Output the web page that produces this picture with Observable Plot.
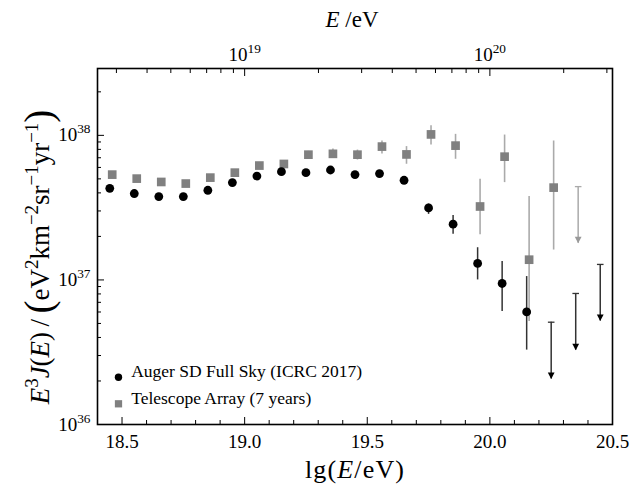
<!DOCTYPE html>
<html><head><meta charset="utf-8">
<script src="https://cdn.jsdelivr.net/npm/d3@7"></script>
<script src="https://cdn.jsdelivr.net/npm/@observablehq/plot@0.6"></script>
<style>
body{margin:0;background:#fff;}
#chart svg{font-family:"Liberation Serif",serif;}
#chart svg text{font-family:"Liberation Serif",serif;}
</style></head><body><div id="chart"></div>
<script>
// Auger SD Full Sky (ICRC 2017)
const augerLgE = [18.45,18.55,18.65,18.75,18.85,18.95,19.05,19.15,19.25,19.35,19.45,19.55,19.65,19.75,19.85,19.95,20.05,20.15];
const augerFlux = [4.30e37,3.96e37,3.77e37,3.77e37,4.17e37,4.71e37,5.23e37,5.61e37,5.52e37,5.76e37,5.35e37,5.44e37,4.89e37,3.15e37,2.43e37,1.30e37,9.45e36,6.01e36];
const augerErrLo = [4.22e37,3.89e37,3.70e37,3.70e37,4.09e37,4.62e37,5.12e37,5.49e37,5.39e37,5.61e37,5.19e37,5.25e37,4.68e37,2.84e37,2.07e37,1.00e37,6.05e36,3.27e36];
const augerErrHi = [4.38e37,4.03e37,3.84e37,3.84e37,4.25e37,4.80e37,5.34e37,5.73e37,5.65e37,5.91e37,5.51e37,5.63e37,5.10e37,3.35e37,2.79e37,1.67e37,1.34e37,1.055e37];
const augerLimLgE = [20.25,20.35,20.45];
const augerLimFlux = [5.1e36,8.06e36,1.28e37];

// Telescope Array (7 years)
const taLgE = [18.46,18.56,18.66,18.76,18.86,18.96,19.06,19.16,19.26,19.36,19.46,19.56,19.66,19.76,19.86,19.96,20.06,20.16,20.26];
const taFlux = [5.35e37,5.02e37,4.76e37,4.64e37,5.10e37,5.52e37,6.18e37,6.34e37,7.35e37,7.45e37,7.35e37,8.36e37,7.38e37,1.015e38,8.49e37,3.22e37,7.12e37,1.38e37,4.35e37];
const taErrLo = [5.2e37,4.88e37,4.62e37,4.5e37,4.94e37,5.34e37,5.96e37,6.1e37,6.95e37,6.94e37,6.75e37,7.43e37,6.31e37,8.57e37,6.83e37,2.05e37,4.71e37,5.16e36,1.61e37];
const taErrHi = [5.5e37,5.16e37,4.9e37,4.78e37,5.26e37,5.7e37,6.4e37,6.58e37,7.75e37,8.04e37,7.91e37,9.14e37,8.36e37,1.167e38,1.016e38,4.97e37,1.005e38,3.77e37,9.14e37];
const taLimLgE = [20.36];
const taLimFlux = [4.42e37];

const xTicks = [18.5,19.0,19.5,20.0,20.5];
const xMinor = [18.6,18.7,18.8,18.9,19.1,19.2,19.3,19.4,19.6,19.7,19.8,19.9,20.1,20.2,20.3,20.4];
const yTicks = [1e36,1e37,1e38];
const topTicksE = [1e19,1e20];
const topMinorE = [3e18,4e18,5e18,6e18,7e18,8e18,9e18,2e19,3e19,4e19,5e19,6e19,7e19,8e19,9e19,2e20,3e20];
const legendLabels = ["Auger SD Full Sky (ICRC 2017)","Telescope Array (7 years)"];

const yDomain = [1e36, 2.9e38];
const yMinor = [];
for (const d of [36,37,38]) for (let k=2;k<=9;k++){const v=k*10**d; if(v<=yDomain[1]) yMinor.push(v);}
const arrowFactor = 10**0.392;

const auger = augerLgE.map((x,i)=>({x,y:augerFlux[i],lo:augerErrLo[i],hi:augerErrHi[i]}));
const augerLim = augerLimLgE.map((x,i)=>({x,y:augerLimFlux[i],tip:augerLimFlux[i]/arrowFactor}));
const ta = taLgE.map((x,i)=>({x,y:taFlux[i],lo:taErrLo[i],hi:taErrHi[i]}));
const taLim = taLimLgE.map((x,i)=>({x,y:taLimFlux[i],tip:taLimFlux[i]/arrowFactor}));

const capSym = {draw(c){c.moveTo(-3.3,0);c.lineTo(3.3,0);}};
const headSym = {draw(c){c.moveTo(-3.4,-6.5);c.lineTo(3.4,-6.5);c.lineTo(0,0);c.closePath();}};
const sup = s => `10^${Math.round(Math.log10(s))}`;

const svg = Plot.plot({
  width:632, height:486,
  marginLeft:97, marginRight:20, marginTop:68, marginBottom:62,
  style:{fontFamily:"Liberation Serif, serif", fontSize:"19px", color:"#000", background:"#fff", overflow:"visible"},
  x:{domain:[18.4,20.5], label:null},
  y:{type:"log", domain:yDomain, label:null},
  marks:[
    // TA
    Plot.ruleX(ta,{x:"x",y1:"lo",y2:"hi",stroke:"#aaaaaa",strokeWidth:1.6}),
    Plot.ruleX(taLim,{x:"x",y1:"y",y2:"tip",stroke:"#aaaaaa",strokeWidth:1.5}),
    Plot.dot(taLim,{x:"x",y:"y",symbol:capSym,stroke:"#aaaaaa",fill:"none",strokeWidth:1.3}),
    Plot.dot(taLim,{x:"x",y:"tip",symbol:headSym,fill:"#999999",stroke:"none"}),
    Plot.dot(ta,{x:"x",y:"y",symbol:"square",r:4.9,fill:"#808080",stroke:"none"}),
    // Auger
    Plot.ruleX(auger,{x:"x",y1:"lo",y2:"hi",stroke:"#333333",strokeWidth:1.5}),
    Plot.ruleX(augerLim,{x:"x",y1:"y",y2:"tip",stroke:"#333333",strokeWidth:1.5}),
    Plot.dot(augerLim,{x:"x",y:"y",symbol:capSym,stroke:"#333333",fill:"none",strokeWidth:1.3}),
    Plot.dot(augerLim,{x:"x",y:"tip",symbol:headSym,fill:"#000000",stroke:"none"}),
    Plot.dot(auger,{x:"x",y:"y",r:4.4,fill:"#000",stroke:"none"}),
    // frame
    Plot.frame({stroke:"#000",strokeWidth:1.6}),
    // bottom axis
    Plot.axisX(xTicks,{anchor:"bottom",tickSize:-7,tickFormat:()=>"",strokeWidth:1}),
    Plot.axisX(xMinor,{anchor:"bottom",tickSize:-4,tickFormat:()=>"",strokeWidth:1}),
    Plot.axisX(xTicks,{anchor:"bottom",tickSize:0,tickPadding:10,tickFormat:d=>d.toFixed(1),fontSize:19}),
    // top axis (E / eV)
    Plot.axisX(topTicksE.map(Math.log10),{anchor:"top",tickSize:-7,tickFormat:()=>"",strokeWidth:1}),
    Plot.axisX(topMinorE.map(Math.log10),{anchor:"top",tickSize:-4,tickFormat:()=>"",strokeWidth:1}),
    Plot.axisX(topTicksE.map(Math.log10),{anchor:"top",tickSize:0,tickPadding:8,tickFormat:d=>`10^${Math.round(d)}`,fontSize:19}),
    // left axis
    Plot.axisY(yTicks,{anchor:"left",tickSize:-7,tickFormat:()=>"",strokeWidth:1}),
    Plot.axisY(yMinor,{anchor:"left",tickSize:-4,tickFormat:()=>"",strokeWidth:1}),
    Plot.axisY(yTicks,{anchor:"left",tickSize:0,tickPadding:7,tickFormat:sup,fontSize:19}),
    // legend
    Plot.dot([legendLabels[0]],{frameAnchor:"bottom-left",dx:21,dy:-47.3,r:3.7,fill:"#000"}),
    Plot.dot([legendLabels[1]],{frameAnchor:"bottom-left",dx:21,dy:-20.7,symbol:"square",r:4.1,fill:"#808080"}),
    Plot.text([legendLabels[0]],{frameAnchor:"bottom-left",dx:33.7,dy:-47.3,textAnchor:"start",fontSize:17.5}),
    Plot.text([legendLabels[1]],{frameAnchor:"bottom-left",dx:33.7,dy:-20.7,textAnchor:"start",fontSize:17.5})
  ]
});
document.getElementById("chart").appendChild(svg);

function rich(sel, parts, base){
  let shift = 0;
  for (const p of parts){
    const t = sel.append("tspan").text(p.t);
    const target = p.sup ? -base*0.42 : p.big ? base*0.1 : 0;
    const fs = p.sup ? base*0.7 : p.big ? base*1.45 : base;
    t.attr("font-size", fs);
    if (target !== shift){ t.attr("dy", target - shift); shift = target; }
    if (p.i) t.attr("font-style","italic");
  }
}
const root = d3.select(svg);
root.selectAll("text").each(function(){
  const s = this.textContent;
  const m = /^(\d+)\^(\d+)$/.exec(s);
  if (m){
    const sel = d3.select(this); sel.text("");
    rich(sel,[{t:m[1]},{t:m[2],sup:true}],19);
  }
});
// axis titles
const ty = root.append("text").attr("x",49).attr("y",257).attr("text-anchor","middle")
  .attr("transform","rotate(-90,49,257)").attr("font-size",27).attr("fill","#000");
rich(ty,[{t:"E",i:true},{t:"3",sup:true},{t:"J",i:true},{t:"("},{t:"E",i:true},{t:")\u2009/\u2009"},{t:"(",big:true},
  {t:"eV"},{t:"2",sup:true},{t:"km"},{t:"−2",sup:true},{t:"sr"},{t:"−1",sup:true},{t:"yr"},{t:"−1",sup:true},{t:")",big:true}],27);
const tx = root.append("text").attr("x",354.5).attr("y",478).attr("text-anchor","middle")
  .attr("font-size",26).attr("fill","#000").attr("textLength",99).attr("lengthAdjust","spacing");
rich(tx,[{t:"lg("},{t:"E",i:true},{t:"/eV)"}],26);
const tt = root.append("text").attr("x",352).attr("y",27).attr("text-anchor","middle")
  .attr("font-size",23).attr("fill","#000");
rich(tt,[{t:"E",i:true},{t:" /eV"}],23);
</script></body></html>
